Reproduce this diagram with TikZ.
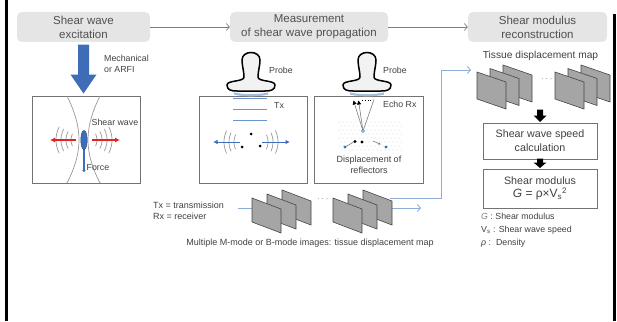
\documentclass[tikz,border=0pt]{standalone}
\usepackage{fontspec}
\setmainfont{Liberation Sans}
\usetikzlibrary{arrows.meta,calc}

\definecolor{hdrfill}{RGB}{229,229,229}
\definecolor{hdrtext}{RGB}{80,80,80}
\definecolor{labeltext}{RGB}{64,64,64}
\definecolor{frameline}{RGB}{115,115,115}
\definecolor{flowline}{RGB}{125,125,125}
\definecolor{pushblue}{RGB}{62,108,182}
\definecolor{wavered}{RGB}{225,35,35}
\definecolor{tissueblue}{RGB}{60,110,185}
\definecolor{pulseblue}{RGB}{105,148,208}
\definecolor{linkblue}{RGB}{140,175,215}
\definecolor{sheetfill}{RGB}{165,165,165}
\definecolor{sheetedge}{RGB}{70,70,70}
\definecolor{probefill}{RGB}{242,242,242}
\definecolor{probeface}{RGB}{165,190,222}

\tikzset{
  % ultrasound probe, origin at the centre of the bottom of its base
  probe/.pic={
    \draw[probeface, line width=2.2pt] (-17,2.5) .. controls (-8,4.8) and (8,4.8) .. (17,2.5);
    \filldraw[fill=probefill, draw=black, line width=1.5pt]
      (-7,-14) .. controls (-7,-20) and (-9,-25) .. (-9,-31)
      .. controls (-9,-41) and (9,-41) .. (9,-31)
      .. controls (9,-25) and (7,-20) .. (7,-14)
      .. controls (7,-9) and (24,-11) .. (24,-6)
      .. controls (24,-1) and (20,0) .. (14,0) -- (-14,0)
      .. controls (-20,0) and (-24,-1) .. (-24,-6)
      .. controls (-24,-11) and (-7,-9) .. (-7,-14) -- cycle;
  },
  % three image frames, front frame top-left corner at the origin
  framestack/.pic={
    \foreach \i in {2,1,0}
      \filldraw[fill=sheetfill, draw=sheetedge, line width=0.6pt, shift={({15*\i},{-4*\i})}]
        (0,0) -- (29,11) -- (29,35) -- (0,24) -- cycle;
  },
  mapstack/.pic={
    \foreach \i in {2,1,0}
      \filldraw[fill=sheetfill, draw=sheetedge, line width=0.6pt, shift={({13*\i},{-3.5*\i})}]
        (0,0) -- (29,10) -- (29,37) -- (0,27) -- cycle;
  },
}

\begin{document}
\begin{tikzpicture}[x=1pt,y=-1pt,
  hdr/.style={fill=hdrfill, rounded corners=5pt, minimum height=30pt, text=hdrtext,
    align=center, font=\fontsize{11.5}{14}\selectfont, inner sep=0pt},
  panel/.style={draw=frameline, line width=0.9pt, minimum height=87pt, inner sep=0pt},
  calcbox/.style={draw=frameline, line width=1pt, minimum width=114pt, inner sep=0pt,
    align=center, text=labeltext},
  lbl/.style={text=labeltext, font=\fontsize{8.8}{11.5}\selectfont, inner sep=0pt, align=left},
  midlbl/.style={text=labeltext, font=\fontsize{9}{11}\selectfont, inner sep=0pt, align=center},
  flow/.style={draw=flowline, line width=0.7pt, -{Straight Barb[length=3pt,width=7pt]}},
  link/.style={draw=linkblue, line width=0.9pt},
  linkarrow/.style={link, -{Straight Barb[length=3pt,width=7pt]}},
  wavearc/.style={draw=gray!80, line width=0.7pt},
  redarrow/.style={draw=wavered, line width=1.3pt, -{Latex[length=5pt,width=5pt]}},
  bluearrow/.style={draw=tissueblue, line width=1pt, -{Latex[length=4.5pt,width=4.5pt]}},
  pulse/.style={draw=pulseblue, line width=1.3pt},
  echo/.style={draw=flowline, line width=0.6pt, -{Triangle[length=4pt,width=4pt,color=black]}},
]
\useasboundingbox (0,0) rectangle (617,321);

% side rules of the slide
\draw[line width=3pt] (6.5,0) -- (6.5,321);
\draw[line width=3pt] (614.5,14) -- (614.5,321);

% ---- stage headers -------------------------------------------------
\node[hdr, minimum width=133pt] (h1) at (83.5,27) {Shear wave\\excitation};
\node[hdr, minimum width=158pt] (h2) at (309,27) {Measurement\\of shear wave propagation};
\node[hdr, minimum width=139pt] (h3) at (537.5,27) {Shear modulus\\reconstruction};
\draw[flow] (h1.east) -- (h2.west);
\draw[flow] (h2.east) -- (h3.west);

% ---- excitation panel ---------------------------------------------
\node[panel, minimum width=108pt] (ex) at (86,139.5) {};
\fill[pushblue, shift={(h1.south |- ex.north)}]
  (-5.5,-51) -- (5.5,-51) -- (5.5,-21) -- (13,-21) -- (0,-2) -- (-13,-21) -- (-5.5,-21) -- cycle;
\node[lbl, anchor=west] (mech) at (104,64) {Mechanical\\or ARFI};

% focused beam outline
\draw[wavearc] (67,96) .. controls (83,128) and (83,152) .. (67,183);
\draw[wavearc] (100,96) .. controls (84,128) and (84,152) .. (100,183);
\coordinate (src) at (84,140);
\foreach \r in {13,18,23,28} {
  \draw[wavearc] plot[domain=152:208, samples=15, smooth] ({84+\r*cos(\x)},{140+\r*sin(\x)});
  \draw[wavearc] plot[domain=-28:28, samples=15, smooth] ({84+\r*cos(\x)},{140+\r*sin(\x)});
}
\draw[redarrow] ($(src)+(-8,0)$) -- ($(src)+(-34,0)$);
\draw[redarrow] ($(src)+(8,0)$) -- ($(src)+(36,0)$);
\draw[tissueblue, line width=1.2pt] (src) -- (84,170);
\fill[tissueblue] (84,170.5) circle (1.6);
\filldraw[fill=tissueblue, draw=tissueblue!70!black, line width=0.5pt] (src) ellipse [x radius=3.2, y radius=9.5];
\node[lbl, anchor=west] (swlbl) at (91.5,122) {Shear wave};
\node[lbl, anchor=west] (force) at (86.5,168) {Force};

% ---- transmit panel -------------------------------------------------
\node[panel, minimum width=108pt] (tx) at (253,139.5) {};
\pic at (251,91) {probe};
\node[lbl, anchor=west] (probeA) at (269,70) {Probe};
\draw[pulse] (233,98.5) -- (267,98.5);
\draw[pulse] (233,109.5) -- (267,109.5);
\draw[pulse] (233,120.5) -- (267,120.5);
\node[lbl, anchor=west] (txlbl) at (274,105) {Tx};
\coordinate (txsrc) at (251,142);
\foreach \r in {17,22,27} {
  \draw[wavearc] plot[domain=155:205, samples=13, smooth] ({251+\r*cos(\x)},{142+\r*sin(\x)});
  \draw[wavearc] plot[domain=-25:25, samples=13, smooth] ({251+\r*cos(\x)},{142+\r*sin(\x)});
}
\draw[bluearrow] ($(txsrc)+(-11,0)$) -- ($(txsrc)+(-38,0)$);
\draw[bluearrow] ($(txsrc)+(11,0)$) -- ($(txsrc)+(39,0)$);
\fill (251,134) circle (1.5);
\fill (242,147) circle (1.5);
\fill (260,146) circle (1.5);

% ---- receive panel --------------------------------------------------
\node[panel, minimum width=109pt] (rx) at (368.5,139.5) {};
\pic at (367,91) {probe};
\node[lbl, anchor=west] (probeB) at (383,70) {Probe};
\foreach \i in {0,...,15}
  \foreach \j in {0,...,7}
    \fill[gray!45] ({339+4*\i+2*mod(\j,2)},{122+4*\j}) circle (0.5);
\coordinate (focus) at (363,131);
\coordinate (rxa) at (353.5,100.5);
\coordinate (rxb) at (358.5,100.5);
\coordinate (rxc) at (374,99.5);
\draw[echo] (focus) -- (rxa);
\draw[echo] (focus) -- (rxb);
\draw[flowline, line width=0.6pt] (focus) -- (rxc);
\draw[black, line width=0.8pt, dotted] (362,100.5) -- (371,100.5);
\node[lbl, anchor=west] (echolbl) at (383,104) {Echo Rx};
% reflectors: rest position (blue) and displaced position (black)
\fill[tissueblue] (345,147) circle (1.6);
\draw[flowline, line width=0.6pt] (346,146.4) -- (353.5,142.2);
\fill (355,141.5) circle (1.6);
\filldraw[fill=white, draw=tissueblue, line width=0.6pt] (focus) circle (1.5);
\fill (362,142) circle (1.6);
\draw[flowline, line width=0.6pt, -{Latex[length=2.5pt,width=2.5pt]}] (373,141) -- (381,144.5);
\fill[tissueblue] (386,147) circle (1.6);
\node[midlbl] (displbl) at (369,164.5) {Displacement of\\reflectors};

% ---- M-mode / B-mode image sequence ---------------------------------
\node[lbl, font=\fontsize{9}{11}\selectfont, anchor=west] (abbr) at (153,210.5) {Tx = transmission\\Rx = receiver};
\coordinate (axisL) at (238,208);
\coordinate (axisA) at (253,208);
\coordinate (axisB) at (390,208);
\coordinate (axisR) at (421,208);
\draw[link] (axisL) -- (axisA);
\draw[linkarrow] (axisB) -- (axisR);
\coordinate (stackR) at (390,198);
\coordinate (mapin) at (471,70);
\draw[linkarrow] (stackR) -| (441,70) -- (mapin);
\pic at (252,198) {framestack};
\pic at (333,198) {framestack};
\node[midlbl] (dotsA) at (323,199) {$\cdots$};
\node[midlbl] (seqlbl) at (310,243) {Multiple M-mode or B-mode images: tissue displacement map};

% ---- reconstruction column ------------------------------------------
\node[lbl, font=\fontsize{10.2}{12}\selectfont] (maplbl) at (540.5,56) {Tissue displacement map};
\pic at (477,72) {mapstack};
\pic at (555,72) {mapstack};
\node[midlbl] (dotsB) at (547,79) {$\cdots$};

\node[calcbox, minimum height=36pt, font=\fontsize{10.7}{14}\selectfont] (speed) at (540,141)
  {Shear wave speed\\calculation};
\node[calcbox, minimum height=39pt] (modulus) at (540,188.5)
  {{\fontsize{10.7}{14}\selectfont Shear modulus}\\[1pt]
   {\fontsize{12}{14}\selectfont\itshape G\upshape\ =\ ρ×V\textsubscript{s}\textsuperscript{2}}};
\fill[shift={(speed.north)}]
  (-3,-13) -- (3,-13) -- (3,-7) -- (6.5,-7) -- (0,-0.5) -- (-6.5,-7) -- (-3,-7) -- cycle;
\fill[shift={(modulus.north)}]
  (-3,-10) -- (3,-10) -- (3,-6) -- (6.5,-6) -- (0,-0.5) -- (-6.5,-6) -- (-3,-6) -- cycle;

\node[lbl, font=\fontsize{8.8}{13}\selectfont, anchor=west] (legend) at (481,230)
  {{\color{gray}\itshape G} : Shear modulus\\
   V\textsubscript{s} : Shear wave speed\\
   {\itshape ρ} :\ \ Density};
\end{tikzpicture}
\end{document}
